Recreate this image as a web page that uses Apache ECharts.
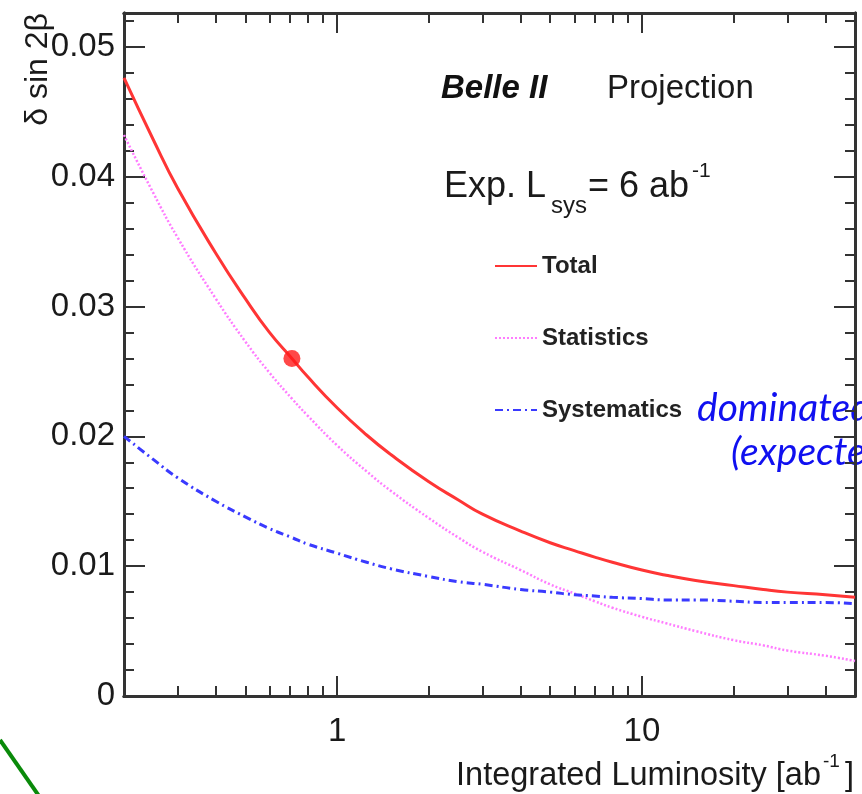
<!DOCTYPE html>
<html>
<head>
<meta charset="utf-8">
<title>Belle II sin2beta projection</title>
<script src="https://cdn.jsdelivr.net/npm/echarts@6/dist/echarts.min.js"></script>
<style>
    html, body { margin: 0; padding: 0; background: #fff; }
    #chart01 { width: 862px; height: 794px; }
</style>
</head>
<body>
<div id="chart01"></div>
<script>
// integrated luminosity [ab^-1] and the three error curves
var lumi = [0.2, 0.25, 0.3, 0.4, 0.5, 0.6, 0.711, 0.8, 1, 1.25, 1.5, 2, 2.5, 3, 4, 5, 6, 7, 8, 10, 12, 15, 20, 25, 30, 40, 50];
var totalErr = [0.0476, 0.0428, 0.0391, 0.0341, 0.0306, 0.0280, 0.0260, 0.0246, 0.0222, 0.0201, 0.0186, 0.0165, 0.0151, 0.0140, 0.0127, 0.0118, 0.0112, 0.0107, 0.0103, 0.0097, 0.0093, 0.0089, 0.0085, 0.0082, 0.0080, 0.0078, 0.0076];
var statErr = [0.0432, 0.0387, 0.0353, 0.0306, 0.0273, 0.0249, 0.0229, 0.0216, 0.0193, 0.0173, 0.0158, 0.0137, 0.0122, 0.0111, 0.0097, 0.0086, 0.0079, 0.0073, 0.0068, 0.0061, 0.0056, 0.0050, 0.0043, 0.0039, 0.0035, 0.0031, 0.0027];
var systErr = [0.0200, 0.0182, 0.0168, 0.0150, 0.0138, 0.0129, 0.0122, 0.0117, 0.0110, 0.0103, 0.0098, 0.0092, 0.0088, 0.0086, 0.0082, 0.0080, 0.0078, 0.0077, 0.0076, 0.0075, 0.0074, 0.0074, 0.0073, 0.0072, 0.0072, 0.0072, 0.0071];
var currentPoint = [0.711, 0.026];

var seriesNames = ['Total', 'Statistics', 'Systematics'];

// axis ticks (ROOT style frame)
var xMajorTicks = [1, 10];
var xMinorTicks = [0.3, 0.4, 0.5, 0.6, 0.7, 0.8, 0.9, 2, 3, 4, 5, 6, 7, 8, 9, 20, 30, 40];
var yMajorTicks = [0, 0.01, 0.02, 0.03, 0.04, 0.05];
var yMinorTicks = [0.002, 0.004, 0.006, 0.008, 0.012, 0.014, 0.016, 0.018, 0.022, 0.024, 0.026, 0.028,
    0.032, 0.034, 0.036, 0.038, 0.042, 0.044, 0.046, 0.048, 0.052];

function pairs(xs, ys) {
    var out = [];
    for (var i = 0; i < xs.length; i++) {
        out.push([xs[i], ys[i]]);
    }
    return out;
}

var FONT = 'Liberation Sans';
var AXIS_COLOR = '#333';

function xAxisDef(position, ticks, len, labels) {
    return {
        type: 'log',
        logBase: 10,
        min: 0.2,
        max: 50,
        position: position,
        axisLine: { show: true, onZero: false, lineStyle: { color: AXIS_COLOR, width: 3 } },
        axisTick: { show: true, inside: true, length: len, customValues: ticks, lineStyle: { color: AXIS_COLOR, width: 2 } },
        axisLabel: {
            show: labels,
            customValues: ticks,
            margin: 19,
            fontFamily: FONT,
            fontSize: 33,
            color: '#1a1a1a',
            formatter: function (v) { return String(Math.round(v)); }
        },
        splitLine: { show: false },
        minorTick: { show: false }
    };
}

function yAxisDef(position, ticks, len, labels) {
    return {
        type: 'value',
        min: 0,
        max: 0.0526,
        position: position,
        axisLine: { show: true, onZero: false, lineStyle: { color: AXIS_COLOR, width: 3 } },
        axisTick: { show: true, inside: true, length: len, customValues: ticks, lineStyle: { color: AXIS_COLOR, width: 2 } },
        axisLabel: {
            show: labels,
            customValues: ticks,
            margin: 9,
            fontFamily: FONT,
            fontSize: 33,
            color: '#1a1a1a',
            formatter: function (v) { return v === 0 ? '0' : v.toFixed(2); }
        },
        splitLine: { show: false }
    };
}

var myChart = echarts.init(document.getElementById('chart01'), null, { renderer: 'canvas' });

option = {
    backgroundColor: '#ffffff',
    animation: false,
    grid: { left: 124, right: 7, top: 13, bottom: 98 },
    legend: {
        data: seriesNames,
        orient: 'vertical',
        left: 494,
        top: 254,
        padding: 0,
        itemWidth: 42,
        itemHeight: 12,
        itemGap: 48,
        // hide the marker dot, keep only the line sample
        itemStyle: { opacity: 0 },
        textStyle: {
            fontFamily: FONT,
            fontSize: 24,
            fontWeight: 'bold',
            color: '#222',
            lineHeight: 24
        }
    },
    xAxis: [
        xAxisDef('bottom', xMajorTicks, 20, true),
        xAxisDef('bottom', xMinorTicks, 10, false),
        xAxisDef('top', xMajorTicks, 20, false),
        xAxisDef('top', xMinorTicks, 10, false)
    ],
    yAxis: [
        yAxisDef('left', yMajorTicks, 21, true),
        yAxisDef('left', yMinorTicks, 10, false),
        yAxisDef('right', yMajorTicks, 21, false),
        yAxisDef('right', yMinorTicks, 10, false)
    ],
    series: [
        {
            name: 'Total',
            type: 'line',
            smooth: true,
            symbol: 'none',
            data: pairs(lumi, totalErr),
            lineStyle: { color: '#ff3535', width: 3 },
            itemStyle: { color: '#ff3535' },
            z: 4
        },
        {
            name: 'Statistics',
            type: 'line',
            smooth: true,
            symbol: 'none',
            data: pairs(lumi, statErr),
            lineStyle: { color: '#ff7cff', width: 2.5, type: [2, 2] },
            itemStyle: { color: '#ff7cff' },
            z: 3
        },
        {
            name: 'Systematics',
            type: 'line',
            smooth: true,
            symbol: 'none',
            data: pairs(lumi, systErr),
            lineStyle: { color: '#3a3aff', width: 3, type: [8, 4, 2, 4] },
            itemStyle: { color: '#3a3aff' },
            z: 3
        },
        {
            name: 'Current',
            type: 'scatter',
            symbol: 'circle',
            symbolSize: 17,
            data: [currentPoint],
            itemStyle: { color: '#ff1a1a' },
            z: 5
        }
    ],
    graphic: [
        // y axis title
        {
            type: 'text', x: 38, y: 13, rotation: Math.PI / 2,
            style: { text: 'δ sin 2β', font: '32px "Liberation Sans"', fill: '#1a1a1a', align: 'right', verticalAlign: 'middle' }
        },
        // x axis title
        {
            type: 'text', x: 821, y: 776,
            style: { text: 'Integrated Luminosity [ab', font: '32.5px "Liberation Sans"', fill: '#1a1a1a', align: 'right', verticalAlign: 'middle' }
        },
        {
            type: 'text', x: 823, y: 762,
            style: { text: '-1', font: '19px "Liberation Sans"', fill: '#1a1a1a', align: 'left', verticalAlign: 'middle' }
        },
        {
            type: 'text', x: 845, y: 776,
            style: { text: ']', font: '32.5px "Liberation Sans"', fill: '#1a1a1a', align: 'left', verticalAlign: 'middle' }
        },
        // labels inside the frame
        {
            type: 'text', x: 441, y: 89,
            style: { text: 'Belle II', font: 'italic bold 33px "Liberation Sans"', fill: '#111', verticalAlign: 'middle' }
        },
        {
            type: 'text', x: 607, y: 89,
            style: { text: 'Projection', font: '33px "Liberation Sans"', fill: '#1a1a1a', verticalAlign: 'middle' }
        },
        {
            type: 'text', x: 444, y: 187,
            style: { text: 'Exp. L', font: '36px "Liberation Sans"', fill: '#1a1a1a', verticalAlign: 'middle' }
        },
        {
            type: 'text', x: 551, y: 206,
            style: { text: 'sys', font: '24px "Liberation Sans"', fill: '#1a1a1a', verticalAlign: 'middle' }
        },
        {
            type: 'text', x: 588, y: 187,
            style: { text: '= 6 ab', font: '36px "Liberation Sans"', fill: '#1a1a1a', verticalAlign: 'middle' }
        },
        {
            type: 'text', x: 692, y: 171,
            style: { text: '-1', font: '21px "Liberation Sans"', fill: '#1a1a1a', verticalAlign: 'middle' }
        },
        // slide annotation overlaid on the plot
        {
            type: 'text', x: 697, y: 408,
            style: { text: 'dominated', font: 'italic 39px Lato', fill: '#1010f0', verticalAlign: 'middle' }
        },
        {
            type: 'text', x: 731, y: 452,
            style: { text: '(expected', font: 'italic 39px Lato', fill: '#1010f0', verticalAlign: 'middle' }
        },
        {
            type: 'line',
            shape: { x1: 0, y1: 740, x2: 39, y2: 796 },
            style: { stroke: '#0a8a0a', lineWidth: 4 }
        }
    ]
};

myChart.setOption(option);

window.onresize = function () {
    myChart.resize();
};
</script>
</body>
</html>
